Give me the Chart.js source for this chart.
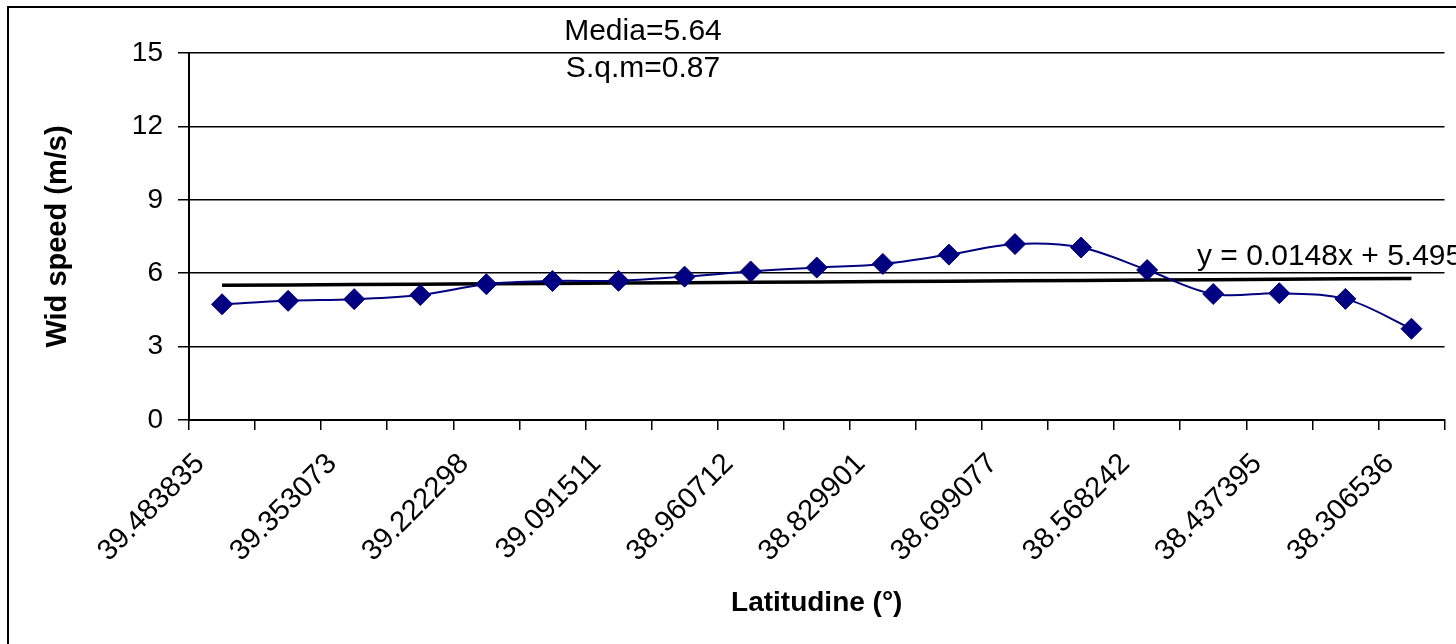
<!DOCTYPE html>
<html>
<head>
<meta charset="utf-8">
<title>Wind speed vs latitude</title>
<script src="https://cdn.jsdelivr.net/npm/chart.js@4.4.1/dist/chart.umd.min.js"></script>
<style>
  html, body { margin: 0; padding: 0; background: #fff; }
  #wrap { position: relative; width: 1456px; height: 644px; }
</style>
</head>
<body>
<div id="wrap"><canvas id="chart-wind"></canvas></div>
<script>
// ── data ──
// latitudes (only every other one is printed on the axis; the odd ones are estimates)
const latitudes = [
  '39.483835', '39.418454', '39.353073', '39.287686', '39.222298',
  '39.156905', '39.091511', '39.026112', '38.960712', '38.895307',
  '38.829901', '38.764489', '38.699077', '38.633660', '38.568242',
  '38.502819', '38.437395', '38.371966', '38.306536'
];
const windSpeed = [
  4.73, 4.87, 4.94, 5.11, 5.55, 5.68, 5.69, 5.86, 6.07, 6.23,
  6.38, 6.76, 7.19, 7.05, 6.13, 5.15, 5.18, 4.95, 3.73
];
// linear trend line as drawn (y = 0.0148x + 5.4954)
const trendValues = [
  5.51, 5.52, 5.54, 5.55, 5.57, 5.58, 5.60, 5.61, 5.63, 5.64,
  5.66, 5.67, 5.69, 5.70, 5.72, 5.73, 5.75, 5.77, 5.78
];
const yTicks = [0, 3, 6, 9, 12, 15];
const notes = ['Media=5.64', 'S.q.m=0.87'];
const trendLabel = 'y = 0.0148x + 5.4954';

const FONT = 'Arial, "Liberation Sans", sans-serif';

// frame + free text the way the spreadsheet put them
const annotations = {
  id: 'annotations',
  beforeDraw(chart) {
    const { ctx } = chart;
    ctx.save();
    ctx.fillStyle = '#fff';
    ctx.fillRect(0, 0, chart.width, chart.height);
    ctx.strokeStyle = '#000';
    ctx.lineWidth = 2;
    ctx.strokeRect(8, 7, chart.width + 20, chart.height + 20);
    ctx.restore();
  },
  afterDraw(chart) {
    const { ctx } = chart;
    ctx.save();
    ctx.fillStyle = '#000';
    ctx.font = `30px ${FONT}`;
    ctx.textBaseline = 'middle';
    ctx.textAlign = 'center';
    ctx.fillText(notes[0], 643, 32);
    ctx.fillText(notes[1], 643, 69);
    ctx.textAlign = 'left';
    ctx.fillText(trendLabel, 1197, 257);
    ctx.restore();
  }
};

const ctx = document.getElementById('chart-wind');
new Chart(ctx, {
  type: 'line',
  data: {
    labels: latitudes,
    datasets: [
      {
        label: 'Wind speed',
        data: windSpeed,
        borderColor: '#000080',
        borderWidth: 2,
        backgroundColor: '#000080',
        pointStyle: 'rectRot',
        pointRadius: 10.5,
        pointBorderWidth: 1,
        pointBackgroundColor: '#000080',
        pointBorderColor: '#000080',
        tension: 0.35,
        fill: false,
      },
      {
        label: 'Trend',
        data: trendValues,
        borderColor: '#000',
        borderWidth: 3.5,
        pointRadius: 0,
        tension: 0,
        fill: false,
      }
    ]
  },
  options: {
    responsive: true, maintainAspectRatio: false,
    animation: false,
    layout: { padding: { top: 53, right: 8, bottom: 0, left: 0 } },
    plugins: {
      legend: { display: false },
      tooltip: { enabled: false }
    },
    scales: {
      x: {
        type: 'category',
        offset: true,
        afterFit: s => { s.height = 224; },
        grid: {
          display: true, offset: true, drawOnChartArea: false,
          drawTicks: true, tickLength: 10, color: '#000', lineWidth: 1.5
        },
        border: { display: true, color: '#000', width: 2 },
        ticks: {
          autoSkip: false, maxRotation: 45, minRotation: 45,
          color: '#000', padding: 17, labelOffset: -22,
          font: { family: FONT, size: 29 },
          callback: (v, i) => (i % 2 === 0 ? latitudes[i] : '')
        },
        title: {
          display: true, text: 'Latitudine (°)', color: '#000',
          font: { family: FONT, size: 28, weight: 'bold' },
          padding: { top: 0, bottom: 24 }
        }
      },
      y: {
        min: 0, max: 15,
        afterFit: s => { s.width = 189; },
        afterBuildTicks: s => { s.ticks = yTicks.map(v => ({ value: v })); },
        grid: {
          color: '#000', lineWidth: 1.5,
          drawTicks: true, tickLength: 11
        },
        border: { display: true, color: '#000', width: 2 },
        ticks: {
          color: '#000', padding: 15,
          font: { family: FONT, size: 28 }
        },
        title: {
          display: true, text: 'Wid speed (m/s)', color: '#000',
          font: { family: FONT, size: 29, weight: 'bold' },
          padding: { top: 41, bottom: 0 }
        }
      }
    }
  },
  plugins: [annotations]
});
</script>
</body>
</html>
